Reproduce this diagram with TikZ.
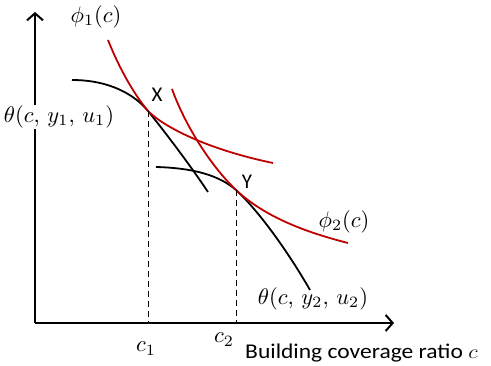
\documentclass[tikz,border=0pt]{standalone}
\usepackage[no-math]{fontspec}
\setmainfont{Carlito}
\usetikzlibrary{arrows.meta}

\begin{document}
\begin{tikzpicture}[x=1pt,y=-1pt]
\definecolor{curvered}{RGB}{192,0,0}
\tikzset{
  axis/.style={line width=2.2pt, -{Straight Barb[length=7pt,width=16pt,line width=2pt]}},
  bidcurve/.style={line width=1.8pt, black},
  rentcurve/.style={line width=1.8pt, curvered},
  guide/.style={line width=0.9pt, dash pattern=on 6pt off 4pt},
  lbl/.style={inner sep=0pt, font=\fontsize{21}{25}\selectfont},
  mlbl/.style={inner sep=0pt, scale=2.25}
}
\useasboundingbox (0,0) rectangle (491,366);

% ======================= ACHSEN =======================
\coordinate (O) at (35,323);
\coordinate (ytip) at (35,12);
\coordinate (xtip) at (394,323);
\draw[axis] (O) -- (ytip);
\draw[axis] (O) -- (xtip);

% Beruehrpunkte
\coordinate (X) at (148,111);
\coordinate (Y) at (236,190);

% ======================= KURVEN =======================
% theta(c,y1,u1)
\draw[bidcurve] (72,80) .. controls (110,80) and (135,95) .. (X)
  .. controls (165,132) and (190,165) .. (208,192);
% theta(c,y2,u2)
\draw[bidcurve] (156,167) .. controls (195,168) and (220,176) .. (Y)
  .. controls (260,212) and (290,255) .. (310,290);

% phi_1(c)
\draw[rentcurve] (108,40) .. controls (120,70) and (134,94) .. (X)
  .. controls (165,128) and (210,150) .. (273,163);
% phi_2(c)
\draw[rentcurve] (172,89) .. controls (185,125) and (210,165) .. (Y)
  .. controls (265,217) and (305,232) .. (348,243);

% Hilfslinien
\draw[guide] (X) -- (X |- O);
\draw[guide] (Y) -- (Y |- O);

% ======================= BESCHRIFTUNG =======================
\node[mlbl] (phione) at (96,17) {$\phi_1(c)$};
\node[lbl] (xlbl) at (157,95) {X};
\node[mlbl, fill=white, inner sep=0.5pt] (thetaone) at (59,117) {$\theta(c,\,y_1,\,u_1)$};
\node[lbl] (ylbl) at (247,182) {Y};
\node[mlbl] (phitwo) at (344,222) {$\phi_2(c)$};
\node[mlbl] (thetatwo) at (313,299) {$\theta(c,\,y_2,\,u_2)$};
\node[mlbl, anchor=base] (cone) at (146,352) {$c_1$};
\node[mlbl, anchor=base] (ctwo) at (224,343) {$c_2$};
\node[lbl, anchor=base west, xscale=1.12] (xtitle) at (245,359) {Building coverage ratio \scalebox{0.95}{$c$}};

\end{tikzpicture}
\end{document}
